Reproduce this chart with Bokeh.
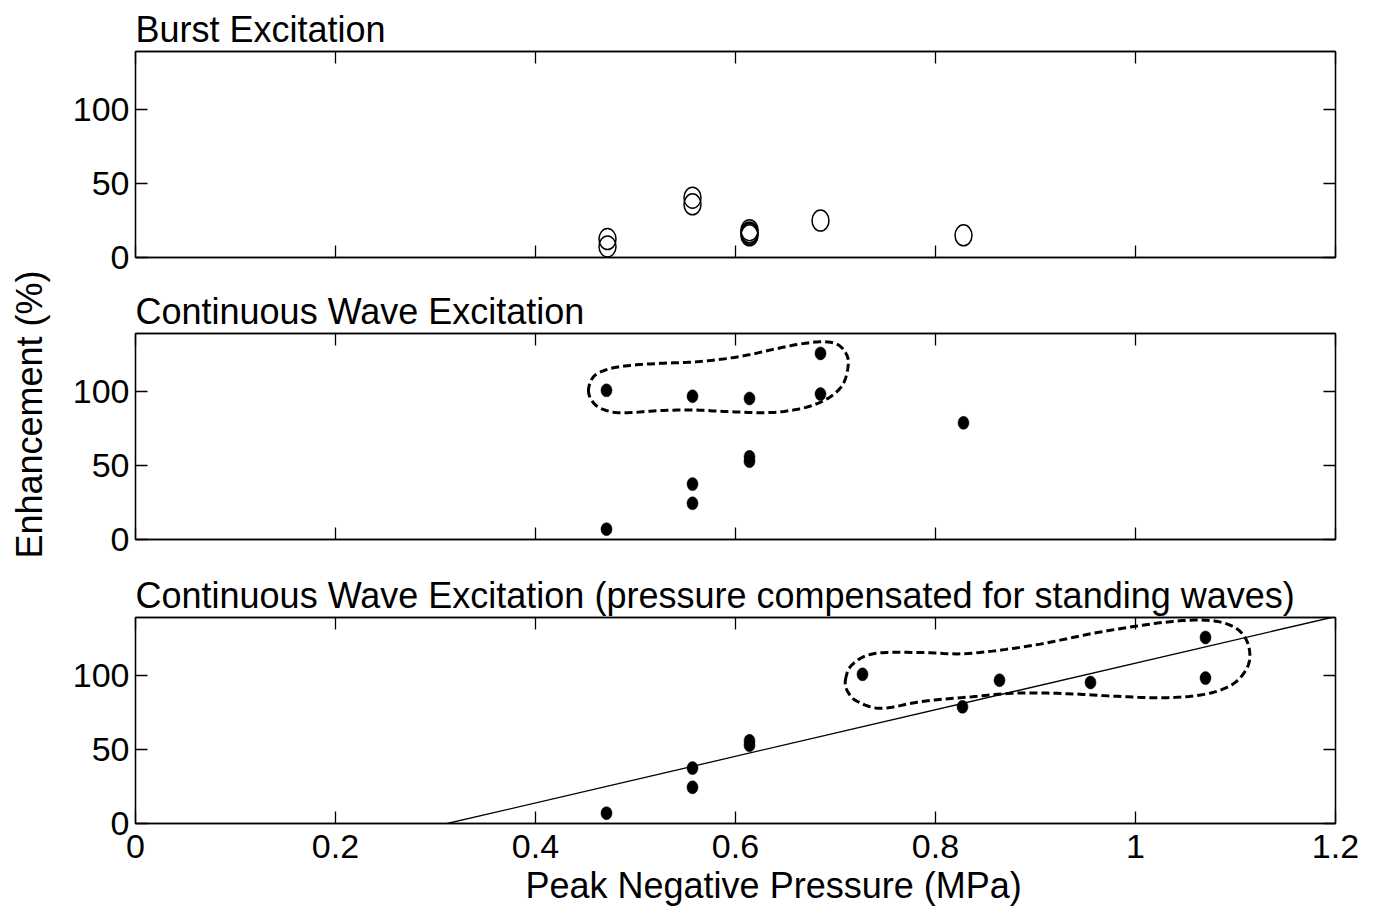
import numpy as np
from bokeh.plotting import figure
from bokeh.layouts import column, row
from bokeh.models import LinearAxis, FixedTicker, Slope, Range1d, Title
from bokeh.embed import file_html
from bokeh.resources import INLINE

# ---------------- data ----------------
titles = ["Burst Excitation",
          "Continuous Wave Excitation",
          "Continuous Wave Excitation (pressure compensated for standing waves)"]
x_label = "Peak Negative Pressure (MPa)"
y_label = "Enhancement (%)"
x_ticks = [0, 0.2, 0.4, 0.6, 0.8, 1.0, 1.2]
x_tick_labels = ["0", "0.2", "0.4", "0.6", "0.8", "1", "1.2"]
y_ticks = [0, 50, 100]

burst_x = [0.472, 0.472, 0.557, 0.557, 0.614, 0.614, 0.614, 0.614, 0.685, 0.828]
burst_y = [12.5, 7.5, 40.5, 36.0, 18.5, 17.0, 16.0, 15.0, 25.0, 15.0]

cw_x = [0.471, 0.557, 0.614, 0.685, 0.685, 0.614, 0.614, 0.557, 0.557, 0.471, 0.828]
cw_y = [101.0, 97.0, 95.5, 126.0, 98.5, 56.0, 53.0, 37.5, 24.5, 7.0, 79.0]

comp_x = [0.727, 0.864, 0.955, 1.070, 1.070, 0.614, 0.614, 0.557, 0.557, 0.471, 0.827]
comp_y = [101.0, 97.0, 95.5, 126.0, 98.5, 56.0, 53.0, 37.5, 24.5, 7.0, 79.0]

fit_slope = 157.8
fit_intercept = -49.2

# outline (control points) of the dashed loops, in data units
loop_cw_x = [0.453, 0.458, 0.472, 0.492, 0.525, 0.558, 0.585, 0.612, 0.638, 0.665,
             0.688, 0.703, 0.712, 0.712, 0.707, 0.695, 0.678, 0.658, 0.632, 0.592,
             0.558, 0.525, 0.492, 0.475, 0.460]
loop_cw_y = [100.1, 110.2, 115.2, 117.7, 119.3, 120.2, 122.0, 124.9, 128.8, 132.4,
             133.9, 131.7, 123.8, 114.8, 104.6, 96.7, 91.1, 87.7, 85.9, 86.6,
             87.7, 87.3, 85.9, 86.6, 91.1]

loop_comp_x = [0.710, 0.717, 0.739, 0.786, 0.832, 0.898, 0.965, 1.032, 1.072, 1.095,
               1.108, 1.114, 1.112, 1.098, 1.072, 1.032, 0.982, 0.932, 0.882, 0.832,
               0.786, 0.746, 0.722, 0.712]
loop_comp_y = [97.4, 107.8, 115.1, 115.8, 115.1, 120.7, 129.7, 136.5, 137.6, 134.2,
               127.5, 117.3, 106.0, 94.7, 87.9, 85.2, 86.1, 87.9, 88.3, 85.6,
               82.6, 78.0, 82.6, 89.6]

FONT = "Liberation Sans"
LABEL_W = 51


def smooth_closed(xs, ys, n=10):
    pts = list(zip(xs, ys))
    N = len(pts)
    ox, oy = [], []
    for i in range(N):
        p0 = np.array(pts[i - 1]); p1 = np.array(pts[i])
        p2 = np.array(pts[(i + 1) % N]); p3 = np.array(pts[(i + 2) % N])
        for t in np.linspace(0, 1, n, endpoint=False):
            t2, t3 = t * t, t * t * t
            q = 0.5 * ((2 * p1) + (-p0 + p2) * t + (2 * p0 - 5 * p1 + 4 * p2 - p3) * t2
                       + (-p0 + 3 * p1 - 3 * p2 + p3) * t3)
            ox.append(q[0]); oy.append(q[1])
    ox.append(ox[0]); oy.append(oy[0])
    return ox, oy


def style_axis(ax, ticks, labels=None):
    ax.ticker = FixedTicker(ticks=ticks)
    ax.axis_line_color = "black"
    ax.axis_line_width = 1.3
    ax.major_tick_in = 12
    ax.major_tick_out = 0
    ax.minor_tick_line_color = None
    ax.major_tick_line_color = "black"
    ax.major_tick_line_width = 1.3
    ax.major_label_text_font = FONT
    ax.major_label_text_color = "black"
    if labels is None:
        ax.major_label_overrides = {t: "" for t in ticks}
        ax.major_label_text_font_size = "1px"
        ax.major_label_standoff = 0
    else:
        ax.major_label_overrides = {t: l for t, l in zip(ticks, labels)}
        ax.major_label_text_font_size = "34px"


def make_fig(title, top, bottom, show_xlabels=False):
    p = figure(frame_width=1200, frame_height=206,
               min_border_left=135 - LABEL_W, min_border_right=41,
               min_border_top=top, min_border_bottom=bottom,
               x_range=Range1d(0, 1.2), y_range=Range1d(0, 139.5),
               output_backend="svg", toolbar_location=None,
               background_fill_color="white", border_fill_color="white")
    p.title.text = title
    p.title.text_font = FONT
    p.title.text_font_size = "36px"
    p.title.text_font_style = "normal"
    p.title.text_color = "black"
    p.title.align = "left"
    p.title.offset = 0
    p.title.standoff = 4
    p.grid.visible = False
    p.outline_line_color = "black"
    p.outline_line_width = 1.3
    p.outline_line_alpha = 1

    xa = p.xaxis[0]
    if show_xlabels:
        style_axis(xa, x_ticks, x_tick_labels)
        xa.major_label_standoff = 11
    else:
        style_axis(xa, x_ticks)

    ya = p.yaxis[0]
    style_axis(ya, y_ticks, [str(t) for t in y_ticks])
    ya.major_label_standoff = 6

    ta = LinearAxis()
    style_axis(ta, x_ticks)
    p.add_layout(ta, "above")
    ra = LinearAxis()
    style_axis(ra, y_ticks)
    p.add_layout(ra, "right")
    return p


# narrow strip that carries the shared y-axis label
lab = figure(frame_width=1, frame_height=286,
             min_border_left=LABEL_W - 1, min_border_right=0,
             min_border_top=271, min_border_bottom=907 - 271 - 286,
             x_axis_type=None, y_axis_type=None,
             x_range=Range1d(0, 1), y_range=Range1d(0, 1),
             output_backend="svg", toolbar_location=None,
             title=y_label, title_location="left",
             background_fill_color="white", border_fill_color="white")
lab.outline_line_color = None
lab.grid.visible = False
lab.title.text_font = FONT
lab.title.text_font_size = "36px"
lab.title.text_font_style = "normal"
lab.title.text_color = "black"
lab.title.align = "center"
lab.title.standoff = 2

f1 = make_fig(titles[0], 51, 22)
f1.ellipse(burst_x, burst_y, width=17, height=21, width_units="screen",
           height_units="screen", fill_color=None, line_color="black", line_width=1.5)

f2 = make_fig(titles[1], 54, 28)
lx, ly = smooth_closed(loop_cw_x, loop_cw_y)
f2.line(lx, ly, line_color="black", line_width=3, line_dash="8 4")
f2.ellipse(cw_x, cw_y, width=11, height=13, width_units="screen",
           height_units="screen", fill_color="black", line_color="black", line_width=0.5)

f3 = make_fig(titles[2], 50, 84, show_xlabels=True)
f3.add_layout(Title(text=x_label, align="left", offset=390, text_font=FONT,
                    text_font_size="36px", text_font_style="normal",
                    text_color="black", standoff=5), "below")
f3.add_layout(Slope(gradient=fit_slope, y_intercept=fit_intercept,
                    line_color="black", line_width=1.3))
lx, ly = smooth_closed(loop_comp_x, loop_comp_y)
f3.line(lx, ly, line_color="black", line_width=3, line_dash="8 4")
f3.ellipse(comp_x, comp_y, width=11, height=13, width_units="screen",
           height_units="screen", fill_color="black", line_color="black", line_width=0.5)

layout = row(lab, column(f1, f2, f3, spacing=0), spacing=0)
open("out.html", "w").write(file_html(layout, INLINE))
